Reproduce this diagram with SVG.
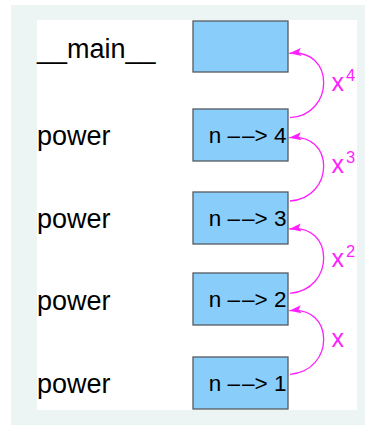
<svg xmlns="http://www.w3.org/2000/svg" width="365" height="428" viewBox="0 0 365 428">
  <style>
    .frame { fill: #edf5f4; }
    .sheet { fill: #ffffff; }
    .box { fill: #89cefb; stroke: #555a5e; stroke-width: 1.3; }
    .label { font-family: "Liberation Sans", Arial, sans-serif; font-size: 27px; fill: #000; }
    .val { font-family: "Liberation Sans", Arial, sans-serif; font-size: 22.5px; fill: #000; text-anchor: end; }
    .ret { fill: none; stroke: #ff1fff; stroke-width: 1.3; marker-end: url(#head); }
    .pow { font-family: "Liberation Sans", Arial, sans-serif; font-size: 25px; fill: #ff1fff; }
    .sup { font-size: 16.5px; }
  </style>
  <defs>
    <marker id="head" markerUnits="userSpaceOnUse" viewBox="0 0 12 8" markerWidth="12" markerHeight="8" refX="12" refY="4" orient="auto">
      <path d="M0,0 L12,4 L0,8 L2.5,4 z" fill="#ff1fff"/>
    </marker>
  </defs>

  <!-- background panel -->
  <rect class="frame" x="11" y="5" width="354" height="420"/>
  <rect class="sheet" x="37" y="20" width="320" height="390"/>

  <!-- frame names -->
  <g id="frame-main">
    <text class="label" x="37" y="58">__main__</text>
    <rect class="box" x="193" y="21" width="95" height="51"/>
  </g>
  <g id="frame-power-4">
    <text class="label" x="37" y="145">power</text>
    <rect class="box" x="193" y="109" width="95" height="52"/>
    <text class="val" x="286.5" y="143">n –<tspan dx="2">–</tspan>&gt; 4</text>
  </g>
  <g id="frame-power-3">
    <text class="label" x="37" y="228">power</text>
    <rect class="box" x="193" y="192" width="95" height="52"/>
    <text class="val" x="286.5" y="226">n –<tspan dx="2">–</tspan>&gt; 3</text>
  </g>
  <g id="frame-power-2">
    <text class="label" x="37" y="310">power</text>
    <rect class="box" x="193" y="273" width="95" height="52"/>
    <text class="val" x="286.5" y="307">n –<tspan dx="2">–</tspan>&gt; 2</text>
  </g>
  <g id="frame-power-1">
    <text class="label" x="37" y="393">power</text>
    <rect class="box" x="193" y="357" width="95" height="52"/>
    <text class="val" x="286.5" y="391">n –<tspan dx="2">–</tspan>&gt; 1</text>
  </g>

  <!-- return values passed back up the stack -->
  <g id="returns">
    <path class="ret" d="M290,117.7 C335,115 335,48 289.3,53.3"/>
    <path class="ret" d="M290,201 C335,198 335,132 289.3,137.7"/>
    <path class="ret" d="M290,293.3 C335,290 335,223 289.3,229"/>
    <path class="ret" d="M290,374.3 C335,371 335,305 289.3,310.7"/>
    <text class="pow" x="331.5" y="90.7">x<tspan class="sup" x="346" y="80.5">4</tspan></text>
    <text class="pow" x="331.5" y="173.3">x<tspan class="sup" x="346" y="163">3</tspan></text>
    <text class="pow" x="331.5" y="266.7">x<tspan class="sup" x="346" y="256.5">2</tspan></text>
    <text class="pow" x="331.5" y="346.7">x</text>
  </g>
</svg>
